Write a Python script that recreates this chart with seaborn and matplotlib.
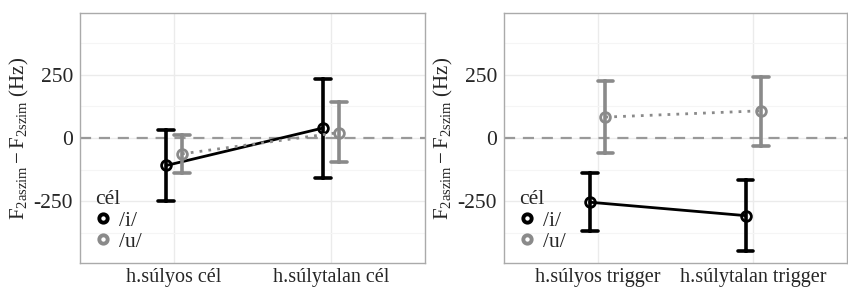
import pandas as pd
import matplotlib
matplotlib.use("Agg")
import matplotlib.pyplot as plt
from matplotlib.lines import Line2D
import seaborn as sns

# category labels for the two panels
cats_left = ["h.súlyos cél", "h.súlytalan cél"]
cats_right = ["h.súlyos trigger", "h.súlytalan trigger"]
vowels = ["/i/", "/u/"]

# means and interval limits (Hz)
left_mean = {"/i/": [-108, 40], "/u/": [-62, 22]}
left_lo = {"/i/": [-248, -158], "/u/": [-138, -96]}
left_hi = {"/i/": [33, 234], "/u/": [13, 142]}

right_mean = {"/i/": [-253, -306], "/u/": [83, 108]}
right_lo = {"/i/": [-365, -445], "/u/": [-59, -30]}
right_hi = {"/i/": [-136, -165], "/u/": [224, 243]}

colors = ["#000000", "#8a8a8a"]


def build_frame(cats, mean, lo, hi):
    # three rows per group: lower limit, mean, upper limit
    rows = []
    for v in vowels:
        for k, c in enumerate(cats):
            for val in (lo[v][k], mean[v][k], hi[v][k]):
                rows.append({"cat": c, "cél": v, "val": val})
    return pd.DataFrame(rows)


sns.set_style("white")
plt.rcParams["font.family"] = ["Liberation Serif", "DejaVu Serif"]
plt.rcParams["mathtext.fontset"] = "custom"
plt.rcParams["mathtext.rm"] = "Liberation Serif"
plt.rcParams["mathtext.it"] = "Liberation Serif:italic"
plt.rcParams["axes.unicode_minus"] = False

FS = 15

fig = plt.figure(figsize=(8.48, 2.87), dpi=100)
W, H = 848, 287
ax_left = fig.add_axes([80 / W, 24 / H, 345 / W, 250 / H])
ax_right = fig.add_axes([504 / W, 24 / H, 343 / W, 250 / H])

panels = [
    (ax_left, build_frame(cats_left, left_mean, left_lo, left_hi), cats_left),
    (ax_right, build_frame(cats_right, right_mean, right_lo, right_hi), cats_right),
]

for ax, df, cats in panels:
    ax.axhline(0, color="#999999", lw=1.6, ls=(0, (5, 3.5)), zorder=1)
    sns.pointplot(
        data=df, x="cat", y="val", hue="cél", order=cats, hue_order=vowels,
        palette=colors, estimator="median",
        errorbar=lambda s: (s.min(), s.max()),
        dodge=0.1, capsize=0.1, markers=["o", "o"], linestyles=["-", (0, (1, 2.2))],
        linewidth=2, markersize=7, markerfacecolor="none", markeredgewidth=2,
        err_kws={"linewidth": 2.6}, legend=False, ax=ax,
    )
    ax.set_xlim(-0.6, 1.6)
    ax.set_ylim(-493, 494)
    ax.set_yticks([-250, 0, 250])
    ax.set_yticks([-375, -125, 125, 375], minor=True)
    ax.grid(True, which="major", color="#ebebeb", lw=1.0, zorder=0)
    ax.grid(True, which="minor", axis="y", color="#f5f5f5", lw=0.8, zorder=0)
    ax.set_axisbelow(True)
    for sp in ax.spines.values():
        sp.set_color("#aaaaaa")
        sp.set_linewidth(1.0)
    ax.tick_params(axis="y", which="major", length=3, color="#999999",
                   labelsize=FS + 0.5, pad=2)
    ax.tick_params(axis="x", which="major", length=3, color="#999999",
                   labelsize=FS - 0.5, pad=0.5)
    ax.tick_params(axis="y", which="minor", length=0)
    ax.set_xlabel("")
    ax.set_ylabel(r"$\mathrm{F}_{\mathrm{2aszim}} - \mathrm{F}_{\mathrm{2szim}}$ (Hz)",
                  fontsize=FS, labelpad=1.5)
    handles = [Line2D([], [], ls="", marker="o", markersize=6, color=c,
                      markerfacecolor="none", markeredgewidth=2.8) for c in colors]
    ax.legend(handles, vowels, title="cél", loc="lower left",
              bbox_to_anchor=(0.0, -0.015), frameon=False, fontsize=FS + 0.5,
              title_fontsize=FS + 0.5, handlelength=0.7, handletextpad=0.4,
              labelspacing=0.05, borderaxespad=0.3)
    ax.get_legend()._legend_box.align = "left"

fig.savefig("out.png", dpi=100)
